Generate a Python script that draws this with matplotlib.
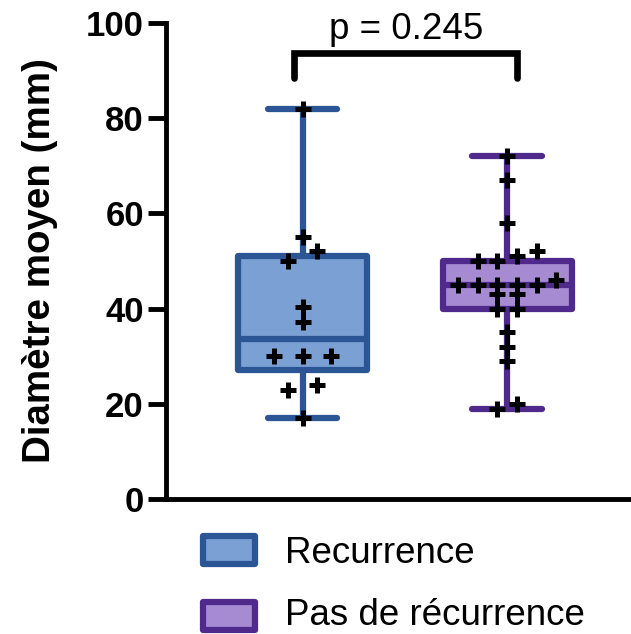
import numpy as np
import matplotlib
matplotlib.use("Agg")
import matplotlib.pyplot as plt
from matplotlib.patches import Rectangle

plt.rcParams['font.family'] = ['Liberation Sans', 'DejaVu Sans']

# ---------------- data ----------------
groups = ["Recurrence", "Pas de récurrence"]
recurrence = [82, 55, 52, 50, 40.3, 37.1, 30, 30, 30, 24, 23, 17]
pas_recurrence = [72, 67, 58, 52, 51, 50, 50, 46, 45, 45, 45, 45, 45,
                  43, 43, 40, 40, 35, 32, 29, 20, 19]
p_text = "p = 0.245"
yticks = [0, 20, 40, 60, 80, 100]
ylabel = "Diamètre moyen (mm)"

edge_colors = ["#2b5594", "#4f2a8c"]
face_colors = ["#7ba1d4", "#a68bd2"]

W, H = 631, 634
fig = plt.figure(figsize=(W / 100, H / 100), dpi=100)
ax = fig.add_axes([166 / W, 1 - 499 / H, (630 - 166) / W, (499 - 23) / H])

datasets = [recurrence, pas_recurrence]
positions = [1, 2]

stats = []
for name, d in zip(groups, datasets):
    arr = np.asarray(d, dtype=float)
    q1, med, q3 = np.percentile(arr, [25, 50, 75], method='hazen')
    stats.append(dict(label=name, med=med, q1=q1, q3=q3,
                      whislo=arr.min(), whishi=arr.max(), fliers=[]))

lw = 4.5
for st, pos, ec, fc in zip(stats, positions, edge_colors, face_colors):
    ax.bxp([st], positions=[pos], widths=0.63, capwidths=0.34,
           patch_artist=True, showfliers=False,
           boxprops=dict(facecolor=fc, edgecolor=ec, linewidth=lw,
                         joinstyle='round'),
           whiskerprops=dict(color=ec, linewidth=lw, solid_capstyle='butt'),
           capprops=dict(color=ec, linewidth=lw, solid_capstyle='round'),
           medianprops=dict(color=ec, linewidth=lw, solid_capstyle='butt'),
           zorder=2)


def swarm_offsets(values, tol=2.5, base=0.137, max_half=0.24):
    order = np.argsort(values)[::-1]
    rows = []
    for i in order:
        v = values[i]
        if rows and rows[-1][0][1] - v < tol:
            rows[-1].append((i, v))
        else:
            rows.append([(i, v)])
    kmax = max(len(r) for r in rows)
    spacing = base if kmax <= 1 else min(base, 2 * max_half / (kmax - 1))
    offs = np.zeros(len(values))
    for r in rows:
        r_sorted = sorted(r, key=lambda t: t[1])
        k = len(r_sorted)
        for j, (i, v) in enumerate(r_sorted):
            offs[i] = (j - (k - 1) / 2) * spacing
    return offs


for d, pos in zip(datasets, positions):
    vals = np.asarray(d, dtype=float)
    offs = swarm_offsets(vals)
    ax.plot(pos + offs, vals, linestyle='none', marker='+', color='black',
            markersize=11, markeredgewidth=3.6, zorder=4, clip_on=False)

# significance bracket
ax.plot([0.96, 0.96, 2.05, 2.05], [88.5, 93.6, 93.6, 88.5], color='black',
        linewidth=4.8, solid_capstyle='round', solid_joinstyle='miter',
        clip_on=False, zorder=5)
ax.text(1.505, 96.6, p_text, ha='center', va='baseline', fontsize=26.5,
        clip_on=False)

ax.set_xlim(0.333, 2.6)
ax.set_ylim(0, 100)
ax.set_yticks(yticks)
ax.set_yticklabels([str(t) for t in yticks], fontsize=25, fontweight='bold')
ax.set_xticks([])
ax.tick_params(axis='y', length=13, width=3.5, pad=3, color='black')
for s in ['top', 'right']:
    ax.spines[s].set_visible(False)
for s in ['left', 'bottom']:
    ax.spines[s].set_linewidth(3.5)
    ax.spines[s].set_color('black')
ax.set_ylabel(ylabel, fontsize=27.7, fontweight='bold', labelpad=20)
ax.patch.set_alpha(0)

# legend (manual)
legend_rect_tops = [536, 602]
legend_baselines = [563, 625]
for name, ec, fc, top_px, base_px in zip(groups, edge_colors, face_colors,
                                         legend_rect_tops, legend_baselines):
    fig.add_artist(Rectangle((203 / W, 1 - (top_px + 28) / H), 52 / W, 28 / H,
                             transform=fig.transFigure, facecolor=fc,
                             edgecolor=ec, linewidth=4.5, joinstyle='round'))
    fig.text(285 / W, 1 - base_px / H, name, fontsize=26.5,
             ha='left', va='baseline')

fig.savefig("out.png", dpi=100)
